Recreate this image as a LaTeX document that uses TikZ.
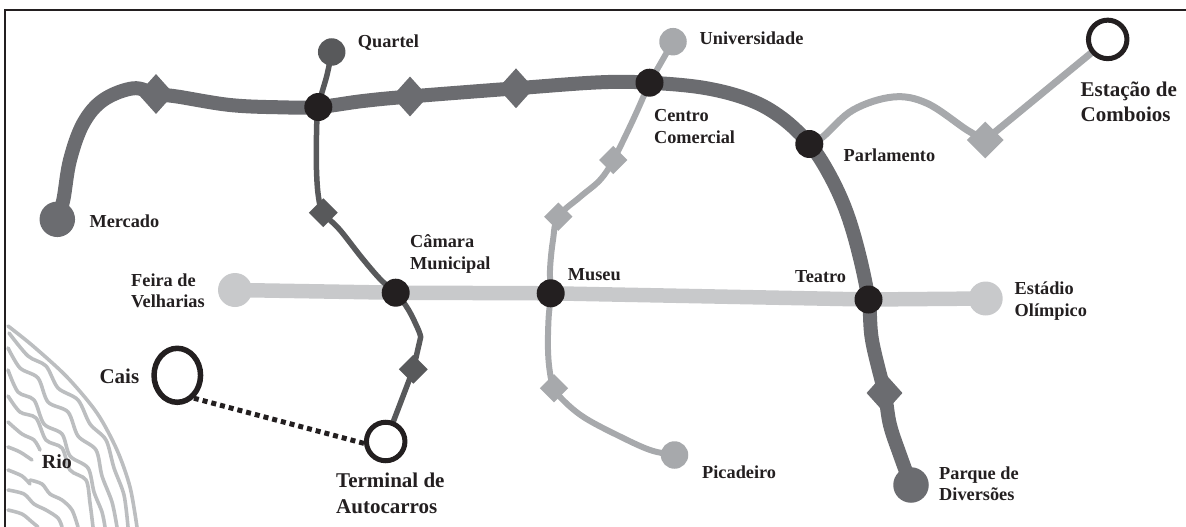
\documentclass[tikz,border=0pt]{standalone}
\usepackage{fontspec}
\setmainfont{Liberation Serif}
\usetikzlibrary{shapes.geometric}
\pgfdeclarelayer{bg}
\pgfsetlayers{bg,main}
\definecolor{lineA}{HTML}{6B6C70}
\definecolor{lineQ}{HTML}{58595B}
\definecolor{lineL}{HTML}{A7A9AC}
\definecolor{lineC}{HTML}{C8C9CB}
\definecolor{ink}{HTML}{231F20}
\definecolor{riverc}{HTML}{BCBEC0}
\newcommand\labfont{\fontsize{18.3}{21.5}\selectfont\bfseries}
\newcommand\biglabfont{\fontsize{21}{24.5}\selectfont\bfseries}
\newcommand\riofont{\fontsize{20}{24}\selectfont\bfseries}
\begin{document}
\begin{tikzpicture}[x=1pt,y=-1pt,
  junction/.style={circle,fill=ink,minimum size=28pt,inner sep=0pt},
  endA/.style={circle,fill=lineA,minimum size=35.5pt,inner sep=0pt},
  endQ/.style={circle,fill=lineQ,minimum size=27.5pt,inner sep=0pt},
  endL/.style={circle,fill=lineL,minimum size=27.5pt,inner sep=0pt},
  endC/.style={circle,fill=lineC,minimum size=34pt,inner sep=0pt},
  openst/.style={circle,draw=ink,line width=5pt,fill=white,minimum size=38.5pt,inner sep=0pt},
  caisst/.style={ellipse,draw=ink,line width=5.5pt,fill=white,minimum width=46.5pt,minimum height=54pt,inner sep=0pt},
  diaA/.style={diamond,fill=lineA,minimum width=36pt,minimum height=40pt,inner sep=0pt},
  diaQ/.style={diamond,fill=lineQ,minimum width=29pt,minimum height=29pt,inner sep=0pt},
  diaL/.style={diamond,fill=lineL,minimum width=28.5pt,minimum height=28.5pt,inner sep=0pt},
  diaLbig/.style={diamond,fill=lineL,minimum width=37pt,minimum height=37pt,inner sep=0pt},
  lab/.style={inner sep=0pt,anchor=west,align=left,text=ink,font=\labfont},
  biglab/.style={inner sep=0pt,anchor=west,align=left,text=ink,font=\biglabfont},
  riolab/.style={inner sep=0pt,anchor=west,text=ink,font=\riofont},
  thickA/.style={lineA,line width=14pt},
  thinQ/.style={lineQ,line width=5.5pt},
  thinL/.style={lineL,line width=6pt},
  midL/.style={lineL,line width=7pt},
  wideC/.style={lineC,line width=14.5pt},
  dotline/.style={ink,line width=5pt,dash pattern=on 5pt off 4pt},
  riverline/.style={riverc,line width=3.6pt,line cap=round,line join=round},
]
\useasboundingbox (0,0) rectangle (1186,527);

% river
\draw[riverline] plot[smooth] coordinates {(8,326) (33,346) (67,377) (97,413) (117,450) (130,487) (137,527)};
\draw[riverline] plot[smooth] coordinates {(9,333) (28,356) (46,366) (58,388) (78,400) (90,424) (106,440) (114,468) (124,495) (128,527)};
\draw[riverline] plot[smooth] coordinates {(8,348) (20,368) (38,378) (48,402) (68,412) (78,436) (96,450) (102,476) (112,502) (117,527)};
\draw[riverline] plot[smooth] coordinates {(8,370) (18,392) (34,400) (44,424) (62,434) (70,456) (88,468) (94,492) (102,512) (105,527)};
\draw[riverline] plot[smooth] coordinates {(8,396) (20,412) (36,418) (46,440) (62,448) (70,470) (86,480) (90,503) (93,527)};
\draw[riverline] plot[smooth] coordinates {(8,422) (22,434) (34,440) (40,450)};
\draw[riverline] plot[smooth] coordinates {(8,447) (20,452) (32,460)};
\draw[riverline] plot[smooth] coordinates {(30,480) (42,484) (50,494) (62,500) (72,510) (78,527)};
\draw[riverline] plot[smooth] coordinates {(8,470) (22,476) (30,484)};
\draw[riverline] plot[smooth] coordinates {(8,490) (24,494) (34,504) (46,510) (58,518) (62,527)};
\draw[riverline] plot[smooth] coordinates {(8,510) (22,514) (32,522) (38,527)};

% frame
\draw[ink,line width=2.5pt] (5,540) -- (5,10) -- (1200,10);

% stations and markers
\node[endA] (mercado) at (57.3,219.3) {};
\node[diaA] (dA1) at (156,94) {};
\node[junction] (j1) at (318.3,107) {};
\node[diaA] (dA2) at (410,96.5) {};
\node[diaA] (dA3) at (516,88.3) {};
\node[junction] (cc) at (649.5,82.7) {};
\node[junction] (parl) at (809.3,144) {};
\node[junction] (teatro) at (868.5,299.5) {};
\node[diaA] (dA4) at (884.5,393) {};
\node[endA] (parque) at (911,485) {};
\node[endQ] (quartel) at (331.7,52) {};
\node[diaQ] (dQ1) at (323.3,212.7) {};
\node[junction] (camara) at (395.7,292.7) {};
\node[diaQ] (dQ2) at (413.3,369.3) {};
\node[openst] (terminal) at (385.7,441.5) {};
\node[endL] (univ) at (673,41.7) {};
\node[diaL] (dL1) at (613.3,160) {};
\node[diaL] (dL2) at (558.3,216.7) {};
\node[junction] (museu) at (550.7,293.3) {};
\node[diaL] (dL3) at (554,388.3) {};
\node[endL] (pica) at (674.5,455) {};
\node[diaLbig] (dL4) at (985.3,140) {};
\node[openst] (estacao) at (1107.7,39.4) {};
\node[endC] (feira) at (235,290) {};
\node[endC] (estadio) at (985.7,298.5) {};
\node[caisst] (cais) at (177.3,375.3) {};

% labels
\node[lab] (lQuartel) at (357.7,42.7) {Quartel};
\node[lab] (lMercado) at (89.3,221.7) {Mercado};
\node[lab] (lUniv) at (699.5,38.5) {Universidade};
\node[lab] (lCC) at (653.9,126.7) {Centro\\Comercial};
\node[lab] (lParl) at (843.5,155.5) {Parlamento};
\node[biglab] (lEst) at (1080.5,102) {Estação de\\Comboios};
\node[lab] (lCam) at (410,254) {Câmara\\Municipal};
\node[lab] (lFeira) at (131,291) {Feira de\\Velharias};
\node[lab] (lMuseu) at (567.7,275) {Museu};
\node[lab] (lTeatro) at (795,276.5) {Teatro};
\node[lab] (lEstadio) at (1014.5,301) {Estádio\\Olímpico};
\node[biglab] (lCais) at (99.3,376.7) {Cais};
\node[biglab] (lTerm) at (336,493.3) {Terminal de\\[2pt]Autocarros};
\node[riolab] (lRio) at (41.7,461.7) {Rio};
\node[lab] (lPica) at (702,472.7) {Picadeiro};
\node[lab] (lParque) at (939,483.5) {Parque de\\Diversões};

\begin{pgfonlayer}{bg}
% horizontal light line
\draw[wideC] (feira.center) -- (camara.center) -- (museu.center) -- (teatro.center) -- (estadio.center);
% thick dark line
\draw[thickA,line join=round] plot[smooth,tension=0.6] coordinates {(mercado.center) (63.3,200) (70,160) (83.3,123.3) (103.3,100) (133.3,88.3) (dA1.center) (177,96.5) (230,105) (280,107.3) (j1.center) (363,101) (dA2.center) (dA3.center) (600,82.3) (cc.center) (705,88) (750,100) (782,118) (parl.center) (828,172) (845,208) (858,250) (teatro.center) (872,340) (dA4.center) (890,425) (900,455) (parque.center)};
% Quartel line
\draw[thinQ,line join=round] plot[smooth,tension=0.6] coordinates {(quartel.center) (327,75) (j1.center) (316.5,135) (316.5,170) (318.5,197) (dQ1.center) (340,230) (362,258) (381,280) (camara.center) (408,309) (418,329) (420.7,337)} -- (dQ2.center) -- (terminal.center);
% light branch
\draw[thinL] (univ.center) -- (cc.center);
\draw[thinL,line join=round] plot[smooth,tension=0.6] coordinates {(cc.center) (633,120) (dL1.center) (600,180) (580,197) (dL2.center) (553,240) (550,270) (museu.center) (548.5,320) (548,350) (550,373) (dL3.center) (565,402) (585,418) (617,435) (650,450) (pica.center)};
% Parlamento - Estacao
\draw[midL,line join=round] plot[smooth,tension=0.6] coordinates {(parl.center) (823,136.7) (853,110) (893,97) (927,103.3) (967,130) (dL4.center)} -- (estacao.center);
% dotted connection
\draw[dotline] (cais.-54) -- (terminal.185);
\end{pgfonlayer}
\end{tikzpicture}
\end{document}
